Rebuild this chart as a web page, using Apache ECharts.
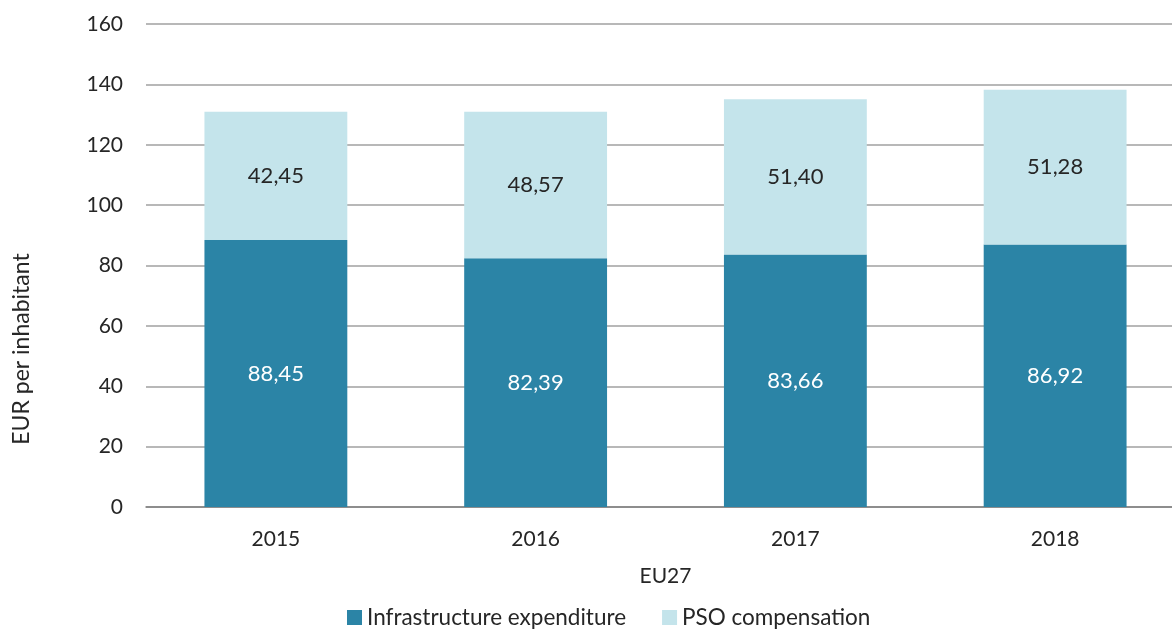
<!DOCTYPE html>
<html style="height: 100%">
<head>
   <meta charset="utf-8">
</head>
<style>
    body, html, #chart {
        width: 100%;
        height: 100%;
        margin: 0;
        background: #fff;
    }
</style>
<title>EUR per inhabitant</title>
<script src="https://cdn.jsdelivr.net/npm/echarts@6/dist/echarts.min.js"></script>
<body>
   <div id="chart"></div>
   <script type="text/javascript">
    // data
    var years = ['2015', '2016', '2017', '2018'];
    var infrastructure = [88.45, 82.39, 83.66, 86.92];
    var pso = [42.45, 48.57, 51.40, 51.28];
    var yTicks = [0, 20, 40, 60, 80, 100, 120, 140, 160];

    var font = 'Lato';
    var fmt = function (p) { return p.value.toFixed(2).replace('.', ','); };

    var chart = echarts.init(document.getElementById('chart'));
    var option = {
        animation: false,
        // plot area runs past the right edge of the picture
        grid: { left: 146, width: 1039, top: 24, bottom: 123, outerBoundsMode: 'none' },
        legend: {
            left: 342, top: 601,
            itemWidth: 15, itemHeight: 15, itemGap: 36,
            icon: 'rect',
            textStyle: { fontFamily: font, fontSize: 22.5, color: '#262626' },
            data: ['Infrastructure expenditure', 'PSO compensation']
        },
        xAxis: {
            type: 'category',
            data: years,
            name: 'EU27',
            nameLocation: 'middle',
            nameGap: 59,
            nameTextStyle: { fontFamily: font, fontSize: 21, color: '#262626' },
            axisTick: { show: false },
            axisLine: { lineStyle: { color: '#7f7f7f', width: 1.5 } },
            axisLabel: { fontFamily: font, fontSize: 21, color: '#262626', margin: 22 }
        },
        yAxis: {
            type: 'value',
            min: yTicks[0],
            max: yTicks[yTicks.length - 1],
            interval: 20,
            axisLine: { show: false },
            axisTick: { show: false },
            splitLine: { lineStyle: { color: '#a0a0a0', width: 1.5 } },
            axisLabel: { fontFamily: font, fontSize: 21, color: '#262626', margin: 23 }
        },
        graphic: [{
            type: 'text',
            x: 22, y: 349,
            rotation: Math.PI / 2,
            style: {
                text: 'EUR per inhabitant',
                fontFamily: font, fontSize: 23, fill: '#262626',
                align: 'center', verticalAlign: 'middle'
            }
        }],
        series: [{
            name: 'Infrastructure expenditure',
            type: 'bar',
            stack: 'total',
            barWidth: '55%',
            data: infrastructure,
            itemStyle: { color: '#2b84a6' },
            label: { show: true, position: 'inside', formatter: fmt,
                     fontFamily: font, fontSize: 22, color: '#ffffff' }
        }, {
            name: 'PSO compensation',
            type: 'bar',
            stack: 'total',
            barWidth: '55%',
            data: pso,
            itemStyle: { color: '#c4e4eb' },
            label: { show: true, position: 'inside', formatter: fmt,
                     fontFamily: font, fontSize: 22, color: '#262626' }
        }]
    };
    chart.setOption(option);
   </script>
</body>
</html>
